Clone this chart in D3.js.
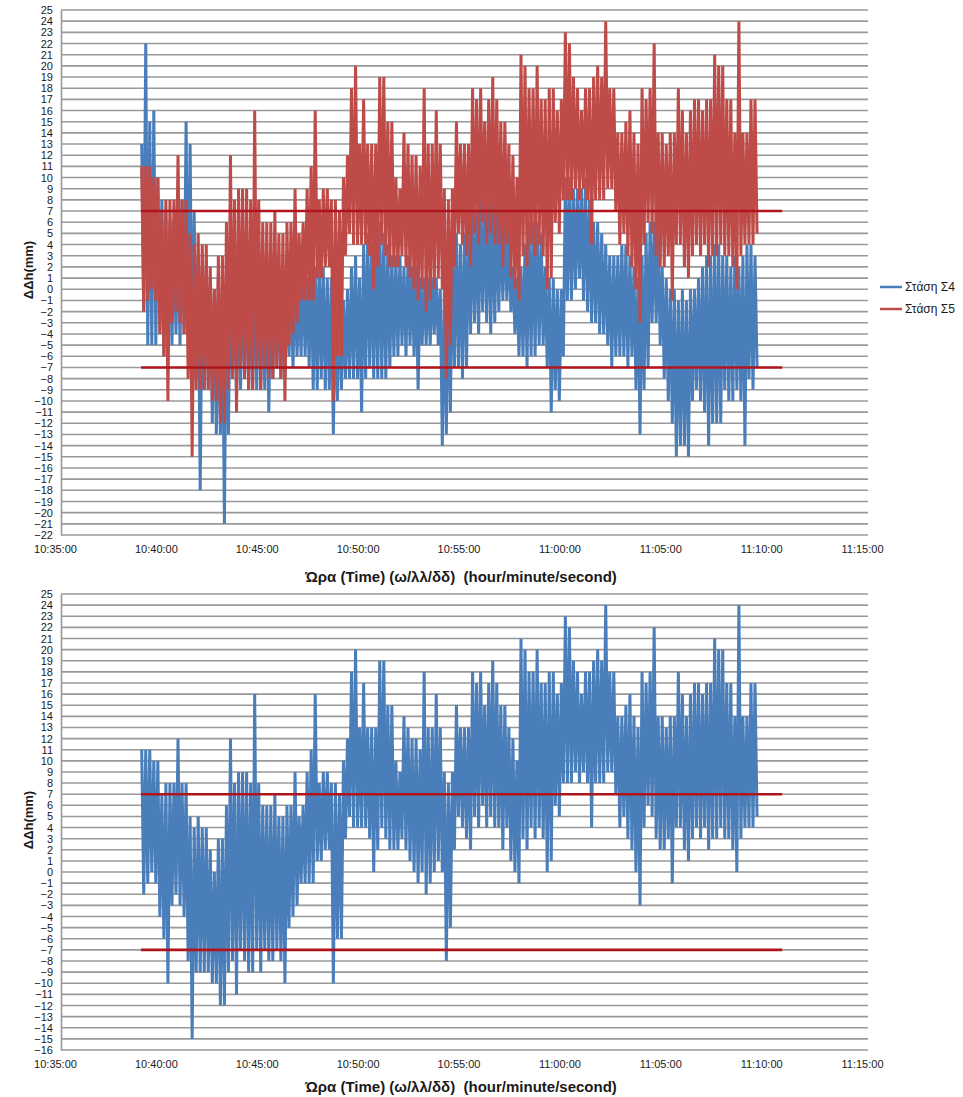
<!DOCTYPE html>
<html>
<head>
<meta charset="utf-8">
<script src="https://cdn.jsdelivr.net/npm/d3@7"></script>
<style>
    body { margin: 0; background: #fff; }
    text { font-family: "Liberation Sans", Arial, sans-serif; fill: #1a1a1a; }
</style>
</head>
<body>
<svg id="chart" width="963" height="1097"></svg>
<script>
// x axis tick labels (time of day)
var xTicks = ["10:35:00", "10:40:00", "10:45:00", "10:50:00", "10:55:00", "11:00:00", "11:05:00", "11:10:00", "11:15:00"];

// samples: one high/low pair every 12 s from 10:39:00
var dataStart = "10:39:00";
var stepSec = 12;

// Στάση Σ4 (blue, top chart)
var s4High = [13, 22, 15, 16, 10, 8, 7, 6, 5, 6,
    8, 15, 13, 7, 3, 2, 2, 1, 0, 1,
    0, 2, 3, 3, 2, 2, 3, 2, 3, 2,
    1, 2, 1, 0, 1, 0, 0, 0, 1, 0,
    2, 1, 3, 2, 3, 2, 1, 1, 0, 0,
    -1, 0, 2, 3, 1, 4, 5, 4, 5, 6,
    5, 4, 3, 3, 3, 2, 3, 2, 2, 1,
    1, 1, 1, 1, 0, 0, 1, 4, 5, 4,
    5, 6, 7, 7, 8, 8, 8, 8, 7, 7,
    6, 5, 2, 1, 2, 4, 6, 6, 6, 5,
    2, 1, 1, 0, 0, 10, 10, 9, 9, 9,
    10, 8, 6, 6, 5, 4, 3, 3, 3, 4,
    4, 3, 2, 1, 3, 5, 6, 6, 5, 2,
    1, 0, 0, -1, 0, -1, 0, 0, 1, 2,
    3, 3, 4, 4, 3, 3, 2, 3, 2, 3,
    4, 4, 3];
var s4Low = [-2, -5, -5, -5, -4, -6, -5, -5, -4, -5,
    -4, -4, -7, -8, -18, -9, -9, -12, -13, -13,
    -21, -13, -8, -10, -9, -8, -9, -9, -9, -9,
    -9, -11, -8, -7, -8, -8, -6, -7, -6, -6,
    -6, -7, -9, -9, -8, -9, -9, -13, -10, -9,
    -8, -8, -8, -8, -11, -8, -7, -8, -8, -8,
    -8, -7, -6, -6, -5, -6, -5, -6, -9, -5,
    -5, -5, -4, -5, -14, -13, -11, -7, -7, -8,
    -7, -4, -3, -4, -2, -3, -4, -3, -2, -1,
    -1, -2, -4, -6, -6, -7, -6, -6, -5, -5,
    -7, -11, -9, -10, -6, -1, -1, 0, 1, -1,
    -2, -3, -3, -4, -4, -5, -7, -6, -6, -6,
    -7, -6, -9, -13, -9, -7, -3, -3, -5, -8,
    -10, -12, -15, -14, -14, -15, -10, -9, -10, -11,
    -14, -12, -12, -12, -9, -10, -10, -9, -10, -14,
    -8, -9, -7];

// Στάση Σ5 (red in the top chart, alone in the bottom chart)
var s5High = [11, 11, 11, 10, 10, 7, 8, 8, 8, 12,
    8, 8, 5, 4, 5, 4, 4, 2, 0, 3,
    3, 6, 12, 8, 9, 9, 9, 8, 16, 8,
    6, 6, 6, 7, 5, 5, 6, 6, 9, 5,
    6, 9, 11, 16, 8, 9, 9, 8, 8, 7,
    10, 12, 18, 20, 13, 17, 13, 13, 13, 19,
    19, 15, 15, 10, 9, 14, 13, 12, 12, 11,
    18, 13, 13, 16, 13, 9, 8, 9, 15, 13,
    13, 13, 18, 17, 18, 15, 17, 19, 17, 15,
    15, 13, 12, 10, 21, 20, 18, 18, 20, 17,
    17, 18, 18, 16, 17, 23, 22, 19, 18, 16,
    18, 18, 19, 20, 19, 24, 18, 18, 14, 14,
    15, 16, 14, 13, 18, 17, 18, 22, 14, 14,
    13, 14, 14, 18, 16, 14, 16, 17, 17, 16,
    17, 17, 21, 20, 20, 17, 17, 14, 24, 14,
    14, 17, 17];
var s5Low = [-2, -1, 0, -1, -4, -6, -10, -3, -2, -3,
    -4, -8, -15, -9, -9, -9, -9, -10, -10, -12,
    -12, -9, -8, -11, -7, -8, -9, -9, -7, -9,
    -7, -8, -8, -7, -8, -10, -5, -4, -3, -1,
    -1, -1, -1, 1, 1, 2, 2, -10, -6, -6,
    3, 5, 4, 4, 4, 4, 3, 0, 2, 4,
    3, 2, 2, 2, 3, 2, 1, 0, -1, 0,
    -2, -1, 0, 1, 0, -8, -5, 2, 5, 4,
    3, 2, 5, 4, 6, 4, 5, 4, 4, 2,
    4, 1, 0, -1, 3, 2, 4, 3, 4, 3,
    0, 1, 6, 5, 8, 8, 8, 9, 8, 9,
    8, 4, 8, 8, 8, 9, 9, 7, 4, 5,
    3, 2, 0, -3, 4, 6, 5, 3, 2, 2,
    3, -1, 4, 4, 2, 1, 3, 4, 3, 4,
    2, 3, 3, 4, 3, 3, 2, 0, 3, 4,
    4, 4, 5];

// tolerance limits
var limitValues = [7, -7];
var limitSpan = ["10:38:58", "11:10:45"];

var seriesNames = ["Στάση Σ4", "Στάση Σ5"];
var xTitle = "Ώρα (Time) (ω/λλ/δδ)  (hour/minute/second)";
var yTitle = "ΔΔh(mm)";

var BLUE = "#4A7EBB", RED = "#BE4B48", LIMIT = "#B0141C", GRID = "#999";

var parseTime = d3.timeParse("%H:%M:%S");
var tStart = parseTime(dataStart);

/**
 * Turns the read high/low pairs into the zig-zag trace of the dense record
 */
function buildPoints(high, low) {
    var pts = [];
    high.forEach(function (h, i) {
        var t = new Date(+tStart + i * stepSec * 1000);
        pts.push({t: t, v: h});
        pts.push({t: new Date(+t + stepSec * 500), v: low[i]});
    });
    return pts;
}

var s4 = buildPoints(s4High, s4Low);
var s5 = buildPoints(s5High, s5Low);

var svg = d3.select("#chart");

function drawChart(cfg) {
    var g = svg.append("g");
    var x = d3.scaleTime()
        .domain([parseTime(xTicks[0]), parseTime(xTicks[xTicks.length - 1])])
        .range([61, 868]);
    var y = d3.scaleLinear().domain([cfg.yMin, cfg.yMax]).range([cfg.bottom, cfg.top]);
    var yVals = d3.range(cfg.yMin, cfg.yMax + 1);

    // horizontal gridlines, one per mm
    g.append("g").selectAll("line").data(yVals).enter().append("line")
        .attr("x1", x.range()[0]).attr("x2", x.range()[1])
        .attr("y1", function (d) { return y(d); })
        .attr("y2", function (d) { return y(d); })
        .attr("stroke", GRID).attr("stroke-width", 1.6);

    var line = d3.line()
        .x(function (d) { return x(d.t); })
        .y(function (d) { return y(d.v); });

    cfg.series.forEach(function (s) {
        g.append("path").datum(s.pts)
            .attr("d", line)
            .attr("fill", "none")
            .attr("stroke", s.color)
            .attr("stroke-width", 3)
            .attr("stroke-linejoin", "bevel");
    });

    // ±7 mm limit lines
    limitValues.forEach(function (v) {
        g.append("line")
            .attr("x1", x(parseTime(limitSpan[0]))).attr("x2", x(parseTime(limitSpan[1])))
            .attr("y1", y(v)).attr("y2", y(v))
            .attr("stroke", LIMIT).attr("stroke-width", 2.6);
    });

    // y axis
    var yAxis = g.append("g").attr("transform", "translate(61,0)")
        .call(d3.axisLeft(y).tickValues(yVals).tickSize(0).tickPadding(8));
    yAxis.select(".domain").attr("stroke", GRID).attr("stroke-width", 1.6);
    yAxis.selectAll("text").attr("font-size", 11).attr("font-family", null);

    // x axis labels
    var xAxis = g.append("g").attr("transform", "translate(0," + cfg.bottom + ")")
        .call(d3.axisBottom(x).tickValues(xTicks.map(parseTime))
            .tickFormat(d3.timeFormat("%H:%M:%S")).tickSize(0).tickPadding(10));
    xAxis.select(".domain").remove();
    xAxis.selectAll("text").attr("font-size", 11).attr("font-family", null).attr("dx", -6);

    g.append("text")
        .attr("x", 461).attr("y", cfg.titleY)
        .attr("text-anchor", "middle")
        .attr("font-size", 15).attr("font-weight", "bold")
        .style("white-space", "pre")
        .text(xTitle);

    g.append("text")
        .attr("transform", "translate(33," + cfg.yTitleY + ") rotate(-90)")
        .attr("text-anchor", "middle")
        .attr("font-size", 13).attr("font-weight", "bold")
        .text(yTitle);

    if (cfg.legend) {
        var lg = g.append("g").selectAll("g").data(cfg.series).enter().append("g")
            .attr("transform", function (d, i) { return "translate(880," + (287 + i * 22) + ")"; });
        lg.append("line").attr("x1", 0).attr("x2", 22)
            .attr("stroke", function (d) { return d.color; }).attr("stroke-width", 2.5);
        lg.append("text").attr("x", 25).attr("dy", "0.35em")
            .attr("font-size", 12)
            .text(function (d) { return d.name; });
    }
}

drawChart({
    top: 10, bottom: 535, yMin: -22, yMax: 25,
    titleY: 582, yTitleY: 270, legend: true,
    series: [
        {name: seriesNames[0], pts: s4, color: BLUE},
        {name: seriesNames[1], pts: s5, color: RED}
    ]
});

drawChart({
    top: 594, bottom: 1050, yMin: -16, yMax: 25,
    titleY: 1092, yTitleY: 820, legend: false,
    series: [
        {name: seriesNames[1], pts: s5, color: BLUE}
    ]
});
</script>
</body>
</html>
